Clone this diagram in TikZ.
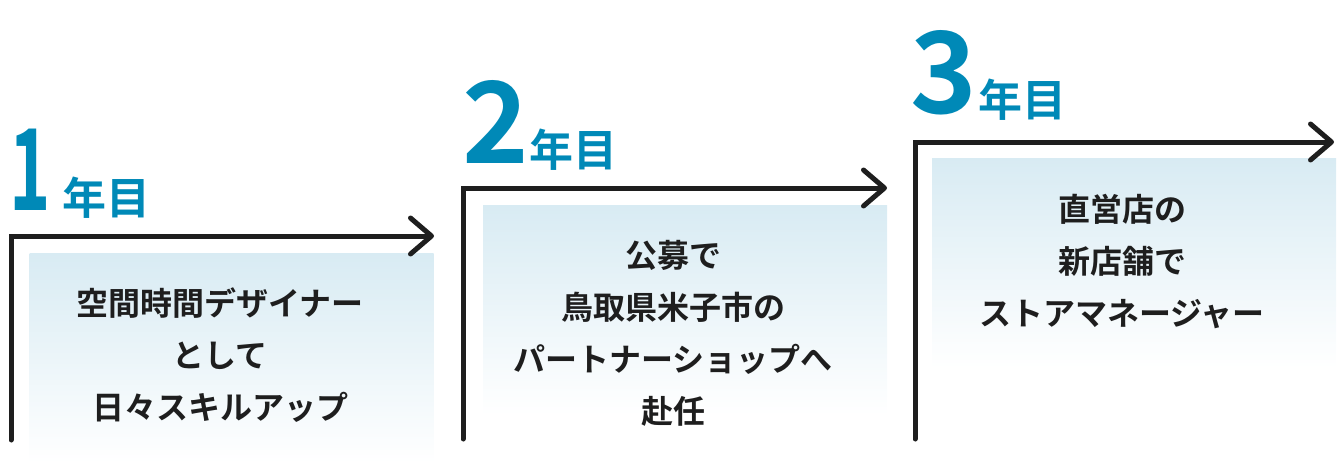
\documentclass[tikz,border=0pt]{standalone}
\usepackage{fontspec}
\setmainfont{Noto Sans CJK JP}[BoldFont={Noto Sans CJK JP Bold}]
\usetikzlibrary{arrows.meta}
\definecolor{yearblue}{HTML}{0089B7}
\definecolor{paleblue}{HTML}{D8EBF3}
\definecolor{inkgray}{HTML}{1E1E1E}
\tikzset{
  stepline/.style={draw=inkgray, line width=5pt, line cap=round, line join=miter,
    -{Straight Barb[length=21pt, width=36pt, line width=5pt, round]}},
  panel/.style={inner sep=0, minimum width=404pt, minimum height=210pt,
    top color=paleblue, bottom color=white},
  yearnum/.style={text=yearblue, font=\bfseries\fontsize{113}{113}\selectfont,
    inner sep=0, anchor=base west},
  yearunit/.style={text=yearblue, font=\bfseries\fontsize{44}{44}\selectfont,
    inner sep=0, anchor=base west},
  career/.style={text=inkgray, font=\bfseries\fontsize{32}{52}\selectfont,
    align=center, inner sep=0}
}
\begin{document}
\begin{tikzpicture}[x=1pt, y=-1pt]
  \useasboundingbox (0,0) rectangle (1338,469);
  \node[panel] (box1) at (231.5,358) {};
  \node[panel] (box2) at (685,310) {};
  \node[panel] (box3) at (1134,263) {};
  \coordinate (foot1) at (11,440);
  \coordinate (knee1) at (11,236);
  \coordinate (tip1) at (434,236);
  \coordinate (foot2) at (463,439);
  \coordinate (knee2) at (463,188);
  \coordinate (tip2) at (887,188);
  \coordinate (foot3) at (915,439);
  \coordinate (knee3) at (915,142);
  \coordinate (tip3) at (1334,142);
  \draw[stepline] (foot1) -- (knee1) -- (tip1);
  \draw[stepline] (foot2) -- (knee2) -- (tip2);
  \draw[stepline] (foot3) -- (knee3) -- (tip3);
  \node[yearnum] (num1) at (9,210) {\scalebox{0.62}[1]{1}};
  \node[yearnum] (num2) at (462,163) {2};
  \node[yearnum] (num3) at (910,113) {3};
  \node[yearunit] (unit1) at ([xshift=12pt, yshift=-4pt]num1.base east) {年目};
  \node[yearunit] (unit2) at ([xshift=0pt, yshift=-3pt]num2.base east) {年目};
  \node[yearunit] (unit3) at ([xshift=1pt, yshift=-3pt]num3.base east) {年目};
  \node[career] (text1) at (220,355) {空間時間デザイナー\\として\\日々スキルアップ};
  \node[career] (text2) at (673,333) {公募で\\鳥取県米子市の\\パートナーショップへ\\赴任};
  \node[career] (text3) at (1122,262) {直営店の\\新店舗で\\ストアマネージャー};
\end{tikzpicture}
\end{document}
